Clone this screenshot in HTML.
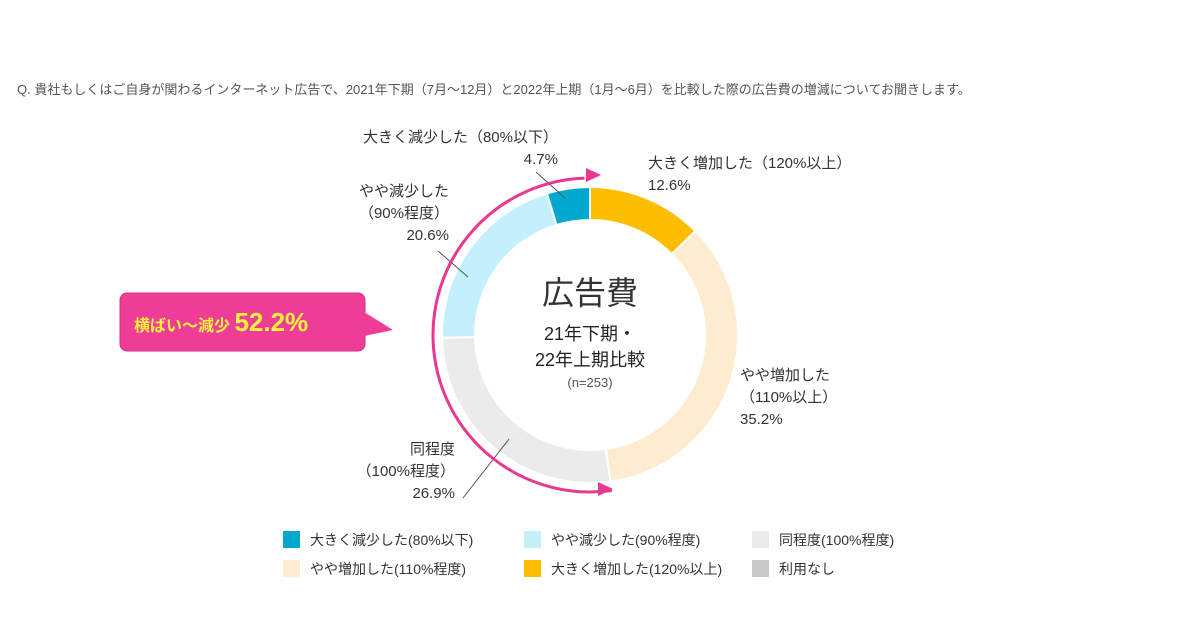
<!DOCTYPE html>
<html><head><meta charset="utf-8"><style>
body{margin:0;background:#fff;width:1200px;height:630px;overflow:hidden;font-family:"Liberation Sans","Noto Sans CJK JP",sans-serif;color:#333}
svg text{font-family:"Liberation Sans","Noto Sans CJK JP",sans-serif}
</style></head><body>
<svg id="chart" width="1200" height="630">
<text x="17" y="94" font-size="13" fill="#555">Q.  貴社もしくはご自身が関わるインターネット広告で、2021年下期（7月～12月）と2022年上期（1月～6月）を比較した際の広告費の増減についてお聞きします。</text>
<g id="slices"></g>
<g id="labels"></g>
<g>
<text x="590" y="304" font-size="32" text-anchor="middle" fill="#333">広告費</text>
<text x="590" y="340" font-size="18" text-anchor="middle" fill="#222">21年下期・</text>
<text x="590" y="366" font-size="18" text-anchor="middle" fill="#222">22年上期比較</text>
<text x="590" y="387" font-size="13" text-anchor="middle" fill="#555">(n=253)</text>
</g>
<path id="arc" fill="none" stroke="#e8388f" stroke-width="3"/>
<polygon points="586,168 601,175 586,182" fill="#e8388f"/>
<polygon points="598,482 613,489 598,496" fill="#e8388f"/>
<g>
<rect x="120" y="293" width="245" height="58" rx="7" fill="#ee3d97" stroke="#d82f85"/>
<polygon points="364,312 393,330 364,336" fill="#ee3d97"/>
<text x="134" y="331" font-size="16" font-weight="bold" fill="#fff23c">横ばい～減少 <tspan font-size="26">52.2%</tspan></text>
</g>
<g id="legend"></g>
</svg>
<script>
const categories=["大きく増加した（120%以上）","やや増加した（110%以上）","同程度（100%程度）","やや減少した（90%程度）","大きく減少した（80%以下）"];
const values=[12.6,35.2,26.9,20.6,4.7];
const colors=["#fdbd00","#feecd0","#ebebeb","#c4f0fc","#00a8d0"];
const legendLabels=["大きく減少した(80%以下)","やや減少した(90%程度)","同程度(100%程度)","やや増加した(110%程度)","大きく増加した(120%以上)","利用なし"];
const legendColors=["#00a8d0","#c4f0fc","#ebebeb","#feecd0","#fdbd00","#c9c9c9"];
const NS="http://www.w3.org/2000/svg";
const cx=590,cy=335,ro=148,ri=115;
function pt(a,r){const t=a*Math.PI/180;return [cx+r*Math.sin(t),cy-r*Math.cos(t)];}
function ang(v){return v/100*360;}
const total=values.reduce((a,b)=>a+b,0);
let acc=0;const sg=document.getElementById('slices');
values.forEach((v,i)=>{
 const a0=ang(acc/total*100),a1=ang((acc+v)/total*100);acc+=v;
 const l=(a1-a0)>180?1:0;
 const p0=pt(a0,ro),p1=pt(a1,ro),p2=pt(a1,ri),p3=pt(a0,ri);
 const p=document.createElementNS(NS,'path');
 p.setAttribute('d',`M${p0} A${ro},${ro} 0 ${l} 1 ${p1} L${p2} A${ri},${ri} 0 ${l} 0 ${p3}Z`);
 p.setAttribute('fill',colors[i]);p.setAttribute('stroke','#fff');p.setAttribute('stroke-width','2');
 
 
 sg.appendChild(p);
});
const s=pt(172,157),e=pt(-2,157);
document.getElementById('arc').setAttribute('d',`M${s} A157,157 0 1 1 ${e}`);
const lg=document.getElementById('labels');
const lab=[
 {lines:["大きく増加した（120%以上）",values[0]+"%"],x:648,y:168,anchor:"start"},
 {lines:["やや増加した","（110%以上）",values[1]+"%"],x:740,y:380,anchor:"start"},
 {lines:["同程度","（100%程度）",values[2]+"%"],x:455,y:454,anchor:"end",line:[463,498,509,439]},
 {lines:["やや減少した","（90%程度）",values[3]+"%"],x:449,y:196,anchor:"end",line:[438,251,468,277]},
 {lines:["大きく減少した（80%以下）",values[4]+"%"],x:558,y:142,anchor:"end",line:[536,172,565,198]}
];
lab.forEach((o,i)=>{
 o.lines.forEach((t,k)=>{
  const tx=document.createElementNS(NS,'text');
  tx.setAttribute('x',o.x);tx.setAttribute('y',o.y+k*22);tx.setAttribute('font-size','15');
  tx.setAttribute('text-anchor',o.anchor);tx.setAttribute('fill','#333');tx.textContent=t;
  
  
  lg.appendChild(tx);
 });
 if(o.line){const ln=document.createElementNS(NS,'line');
  ln.setAttribute('x1',o.line[0]);ln.setAttribute('y1',o.line[1]);ln.setAttribute('x2',o.line[2]);ln.setAttribute('y2',o.line[3]);
  ln.setAttribute('stroke','#555');ln.setAttribute('stroke-width','1');
  
  
  lg.appendChild(ln);}
});
const lgd=document.getElementById('legend');
const lx=[283,524,752],ly=[531,560];
legendLabels.forEach((t,i)=>{
 const x=lx[i%3],y=ly[Math.floor(i/3)];
 const r=document.createElementNS(NS,'rect');
 r.setAttribute('x',x);r.setAttribute('y',y);r.setAttribute('width',17);r.setAttribute('height',17);r.setAttribute('fill',legendColors[i]);
 
 
 lgd.appendChild(r);
 const tx=document.createElementNS(NS,'text');
 tx.setAttribute('x',x+27);tx.setAttribute('y',y+14);tx.setAttribute('font-size','14');tx.setAttribute('fill','#333');tx.textContent=t;
 
 
 lgd.appendChild(tx);
});
</script>
</body></html>
